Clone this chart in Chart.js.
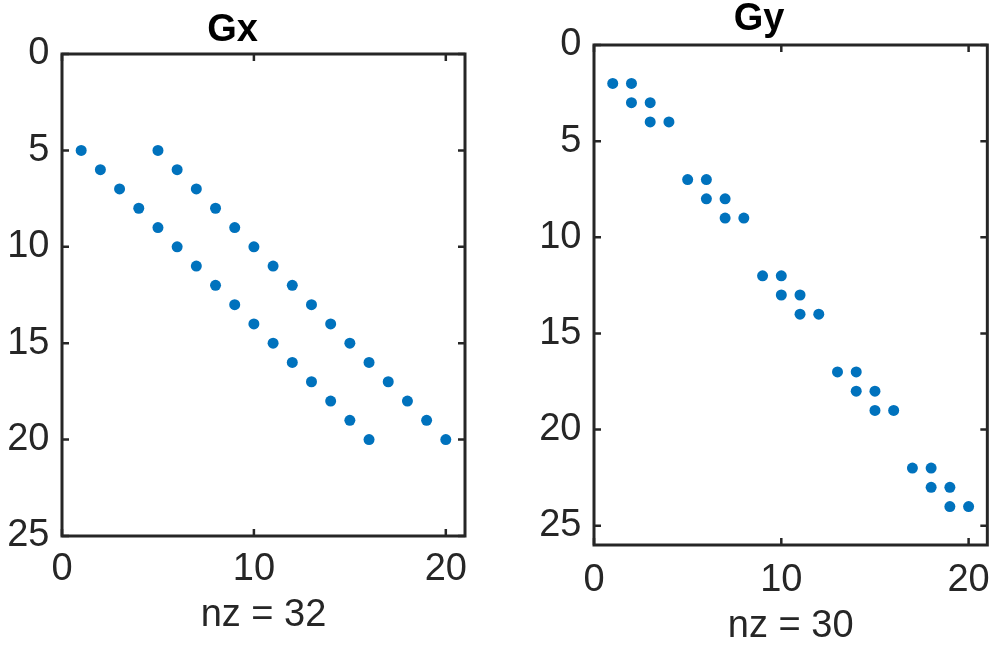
<!DOCTYPE html>
<html>
<head>
<meta charset="utf-8">
<script src="https://cdn.jsdelivr.net/npm/chart.js@4/dist/chart.umd.min.js"></script>
<style>
  body { margin: 0; background: #fff; }
  #wrap { position: relative; width: 1003px; height: 645px; }
  canvas { position: absolute; top: 0; }
</style>
</head>
<body>
<div id="wrap">
  <canvas id="gx" width="500" height="645" style="left:0"></canvas>
  <canvas id="gy" width="483" height="645" style="left:520px"></canvas>
</div>
<script>
// spy(Gx): nonzero (row, col) pairs
const gxRows = [5, 6, 7, 8, 9, 10, 11, 12, 13, 14, 15, 16, 17, 18, 19, 20,
                5, 6, 7, 8, 9, 10, 11, 12, 13, 14, 15, 16, 17, 18, 19, 20];
const gxCols = [1, 2, 3, 4, 5, 6, 7, 8, 9, 10, 11, 12, 13, 14, 15, 16,
                5, 6, 7, 8, 9, 10, 11, 12, 13, 14, 15, 16, 17, 18, 19, 20];

// spy(Gy)
const gyRows = [2, 2, 3, 3, 4, 4, 7, 7, 8, 8, 9, 9, 12, 12, 13, 13, 14, 14,
                17, 17, 18, 18, 19, 19, 22, 22, 23, 23, 24, 24];
const gyCols = [1, 2, 2, 3, 3, 4, 5, 6, 6, 7, 7, 8, 9, 10, 10, 11, 11, 12,
                13, 14, 14, 15, 15, 16, 17, 18, 18, 19, 19, 20];

const xTicks = [0, 10, 20];
const yTicks = [0, 5, 10, 15, 20, 25];

const FONT = "'Liberation Sans', Arial, Helvetica, sans-serif";
const INK = "#262626";
const DOT = "#0072BD";

// MATLAB-style box with inward ticks on all four sides
const boxPlugin = {
    id: "box",
    afterDatasetsDraw(chart) {
        const { ctx, chartArea: a, scales } = chart;
        const len = 7;
        ctx.save();
        ctx.strokeStyle = INK;
        ctx.lineWidth = 2.5;
        ctx.beginPath();
        scales.x.ticks.forEach((t) => {
            const px = scales.x.getPixelForValue(t.value);
            ctx.moveTo(px, a.bottom); ctx.lineTo(px, a.bottom - len);
            ctx.moveTo(px, a.top); ctx.lineTo(px, a.top + len);
        });
        scales.y.ticks.forEach((t) => {
            const py = scales.y.getPixelForValue(t.value);
            ctx.moveTo(a.left, py); ctx.lineTo(a.left + len, py);
            ctx.moveTo(a.right, py); ctx.lineTo(a.right - len, py);
        });
        ctx.stroke();
        ctx.lineWidth = 3;
        ctx.strokeRect(a.left, a.top, a.right - a.left, a.bottom - a.top);
        ctx.restore();
    },
};

function spy(id, rows, cols, cfg) {
    const points = rows.map((r, i) => ({ x: cols[i], y: r }));
    return new Chart(document.getElementById(id), {
        type: "scatter",
        data: {
            datasets: [{
                data: points,
                backgroundColor: DOT,
                borderWidth: 0,
                pointRadius: 5.5,
            }],
        },
        plugins: [boxPlugin],
        options: {
            responsive: false,
            animation: false,
            devicePixelRatio: 1,
            layout: { padding: { left: 0, right: cfg.padRight, top: 0, bottom: 0 } },
            plugins: {
                legend: { display: false },
                tooltip: { enabled: false },
                title: {
                    display: true,
                    text: cfg.title,
                    color: "#000",
                    font: { family: FONT, size: 38, weight: "bold", lineHeight: 1 },
                    padding: { top: cfg.titleTop, bottom: cfg.titleBottom },
                },
            },
            scales: {
                x: {
                    type: "linear",
                    min: 0,
                    max: 21,
                    afterBuildTicks: (s) => { s.ticks = xTicks.map((v) => ({ value: v })); },
                    afterFit: (s) => { s.height = cfg.xHeight; },
                    grid: { display: false, drawTicks: false },
                    border: { display: false },
                    ticks: { color: INK, padding: cfg.xPad, font: { family: FONT, size: 38 } },
                    title: {
                        display: true,
                        text: cfg.xlabel,
                        color: INK,
                        font: { family: FONT, size: 38, lineHeight: 1 },
                        padding: { top: cfg.xlabelPad, bottom: cfg.xlabelPad },
                    },
                },
                y: {
                    type: "linear",
                    reverse: true,
                    min: 0,
                    max: cfg.ymax,
                    afterBuildTicks: (s) => { s.ticks = yTicks.map((v) => ({ value: v })); },
                    afterFit: (s) => { s.width = cfg.yWidth; },
                    grid: { display: false, drawTicks: false },
                    border: { display: false },
                    ticks: { color: INK, padding: 12.5, font: { family: FONT, size: 38 } },
                },
            },
        },
    });
}

spy("gx", gxRows, gxCols, {
    title: "Gx", xlabel: "nz = 32", ymax: 25,
    yWidth: 62, padRight: 35, xHeight: 109,
    titleTop: 12, titleBottom: 4, xPad: 10.5, xlabelPad: 10,
});
spy("gy", gyRows, gyCols, {
    title: "Gy", xlabel: "nz = 30", ymax: 26,
    yWidth: 74, padRight: 5, xHeight: 100,
    titleTop: 1, titleBottom: 6, xPad: 13, xlabelPad: -1,
});
</script>
</body>
</html>
